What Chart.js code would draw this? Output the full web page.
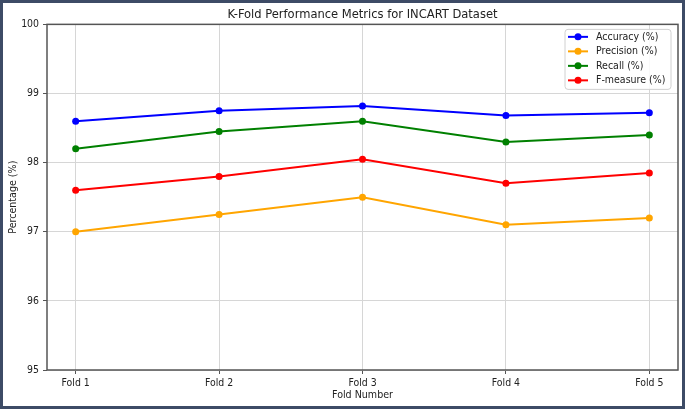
<!DOCTYPE html>
<html>
<head>
<meta charset="utf-8">
<script src="https://cdn.jsdelivr.net/npm/chart.js@4"></script>
<style>
  body { margin: 0; background: #fff; }
  #wrap {
    width: 685px; height: 409px; box-sizing: border-box;
    border: 3px solid #3d4b66; background: #fff;
  }
  #chart { display: block; }
</style>
</head>
<body>
<div id="wrap"><canvas id="chart" width="679" height="403"></canvas></div>
<script>
// values
const folds = ['Fold 1', 'Fold 2', 'Fold 3', 'Fold 4', 'Fold 5'];
const accuracy = [98.6, 98.75, 98.82, 98.68, 98.72];
const precision = [97.0, 97.25, 97.5, 97.1, 97.2];
const recall = [98.2, 98.45, 98.6, 98.3, 98.4];
const fMeasure = [97.6, 97.8, 98.05, 97.7, 97.85];
const yTicks = [95, 96, 97, 98, 99, 100];

const FONT = '"DejaVu Sans Condensed", "DejaVu Sans", sans-serif';

function series(label, values, color) {
  return {
    label: label,
    data: values.map((v, i) => ({ x: i, y: v })),
    borderColor: color,
    backgroundColor: color,
    borderWidth: 2,
    pointRadius: 3.5,
    pointBorderWidth: 0,
    pointBackgroundColor: color,
    tension: 0,
  };
}

// box around the plot area like matplotlib spines
const frame = {
  id: 'frame',
  afterDraw(chart) {
    const a = chart.chartArea;
    const ctx = chart.ctx;
    ctx.save();
    ctx.strokeStyle = '#555';
    ctx.lineWidth = 1.5;
    ctx.strokeRect(a.left, a.top, a.right - a.left, a.bottom - a.top);
    ctx.restore();
  },
};

// legend drawn inside the upper right corner of the plot
const innerLegend = {
  id: 'innerLegend',
  afterDraw(chart) {
    const a = chart.chartArea;
    const ctx = chart.ctx;
    const w = 106, rowH = 14.5, h = 60;
    const x = a.right - 7 - w, y = a.top + 5;
    ctx.save();
    ctx.beginPath();
    ctx.roundRect(x, y, w, h, 3);
    ctx.fillStyle = 'rgba(255,255,255,0.85)';
    ctx.fill();
    ctx.strokeStyle = '#d0d0d0';
    ctx.lineWidth = 1;
    ctx.stroke();
    ctx.font = '10.5px ' + FONT;
    ctx.textBaseline = 'middle';
    chart.data.datasets.forEach((ds, i) => {
      const cy = y + 7.5 + i * rowH;
      ctx.strokeStyle = ds.borderColor;
      ctx.lineWidth = 2;
      ctx.beginPath();
      ctx.moveTo(x + 3, cy);
      ctx.lineTo(x + 23, cy);
      ctx.stroke();
      ctx.fillStyle = ds.borderColor;
      ctx.beginPath();
      ctx.arc(x + 13, cy, 3.5, 0, Math.PI * 2);
      ctx.fill();
      ctx.fillStyle = '#222';
      ctx.fillText(ds.label, x + 31, cy);
    });
    ctx.restore();
  },
};

new Chart(document.getElementById('chart'), {
  type: 'line',
  data: {
    datasets: [
      series('Accuracy (%)', accuracy, '#0000ff'),
      series('Precision (%)', precision, '#ffa500'),
      series('Recall (%)', recall, '#008000'),
      series('F-measure (%)', fMeasure, '#ff0000'),
    ],
  },
  options: {
    responsive: false,
    animation: false,
    layout: { padding: { left: 0, right: 2, top: 0, bottom: 0 } },
    plugins: {
      legend: { display: false },
      tooltip: { enabled: false },
      title: {
        display: true,
        fullSize: false,
        text: 'K-Fold Performance Metrics for INCART Dataset',
        color: '#222',
        font: { family: FONT, size: 12.8, weight: 'normal' },
        padding: { top: 4, bottom: 2 },
      },
    },
    scales: {
      x: {
        type: 'linear',
        min: -0.2,
        max: 4.2,
        afterBuildTicks: (axis) => {
          axis.ticks = folds.map((_, i) => ({ value: i }));
        },
        afterFit: (scale) => { scale.height = 36; },
        ticks: {
          callback: (v) => folds[v],
          color: '#222',
          font: { family: FONT, size: 10.4 },
          padding: 3,
          maxRotation: 0,
        },
        grid: { color: '#d6d6d6', tickColor: '#555', tickLength: 4 },
        border: { display: false },
        title: {
          display: true,
          text: 'Fold Number',
          color: '#222',
          font: { family: FONT, size: 10.6 },
          padding: { top: 2, bottom: 4 },
        },
      },
      y: {
        min: 95,
        max: 100,
        afterBuildTicks: (axis) => {
          axis.ticks = yTicks.map((v) => ({ value: v }));
        },
        afterFit: (scale) => { scale.width = 44; },
        ticks: {
          color: '#222',
          font: { family: FONT, size: 10.4 },
          padding: 4,
        },
        grid: { color: '#d6d6d6', tickColor: '#555', tickLength: 4 },
        border: { display: false },
        title: {
          display: true,
          text: 'Percentage (%)',
          color: '#222',
          font: { family: FONT, size: 10.6 },
          padding: { top: 4, bottom: 4 },
        },
      },
    },
  },
  plugins: [frame, innerLegend],
});
</script>
</body>
</html>
